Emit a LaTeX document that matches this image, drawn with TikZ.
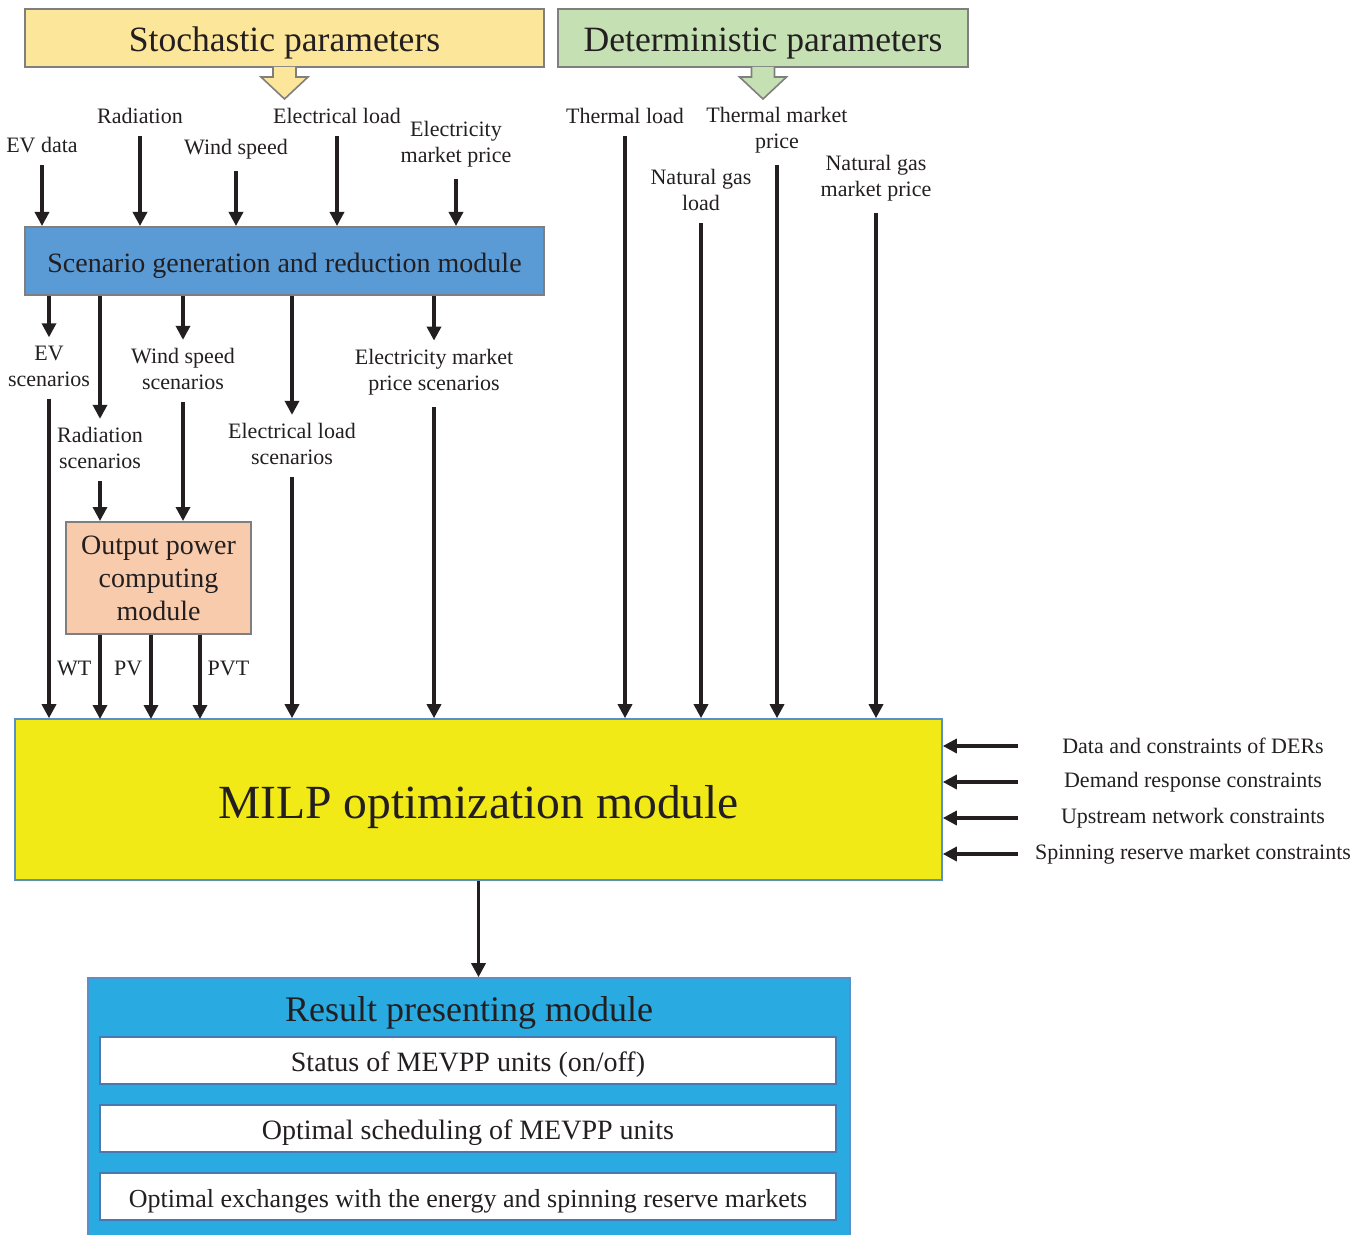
\documentclass[tikz,border=0pt]{standalone}
\usepackage{fontspec}
\setmainfont{Liberation Serif}
\usetikzlibrary{arrows.meta}

\definecolor{ink}{HTML}{231F20}
\definecolor{boxgray}{HTML}{7F7F7F}
\definecolor{stochfill}{HTML}{FCE699}
\definecolor{detfill}{HTML}{C5E0B3}
\definecolor{scenfill}{HTML}{5B9BD5}
\definecolor{opcfill}{HTML}{F8CBAD}
\definecolor{milpfill}{HTML}{F2EA17}
\definecolor{milpline}{HTML}{5B8FC9}
\definecolor{resfill}{HTML}{29ABE2}
\definecolor{resline}{HTML}{4A78B0}

\begin{document}
\begin{tikzpicture}[x=0.5pt, y=-0.5pt,
    box/.style={draw=boxgray, line width=1pt, inner sep=0pt, align=center, text=ink},
    lbl/.style={font=\fontsize{11}{13}\selectfont, align=center, inner sep=0pt, text=ink},
    arr/.style={draw=ink, line width=1.65pt, -{Triangle[width=7pt,length=7pt]}},
    bigarrow/.style={draw=boxgray, line width=0.8pt},
    resitem/.style={draw=resline, line width=0.8pt, fill=white, inner sep=0pt, text=ink,
        minimum width=368pt, minimum height=23.5pt, text height=11pt, text depth=0pt,
        font=\fontsize{14}{16}\selectfont}]
    \useasboundingbox (0,0) rectangle (1365,1235);

    % Parameter boxes
    \node[box, fill=stochfill, minimum width=259.5pt, minimum height=29pt,
        text height=13.2pt, text depth=0pt,
        font=\fontsize{17.8}{20}\selectfont] (stoch) at (284.5,38) {Stochastic parameters};
    \node[box, fill=detfill, minimum width=205pt, minimum height=29pt,
        text height=13.2pt, text depth=0pt,
        font=\fontsize{17.8}{20}\selectfont] (det) at (763,38) {Deterministic parameters};

    % Block arrows under them
    \draw[bigarrow, fill=stochfill] ([xshift=-5.75pt,yshift=0.6pt]stoch.south) -- ++(0,10.2) -- ++(-12,0)
        -- ++(23.5,22) -- ++(23.5,-22) -- ++(-12,0) -- ++(0,-10.2);
    \draw[bigarrow, fill=detfill] ([xshift=-5.75pt,yshift=0.6pt]det.south) -- ++(0,10.2) -- ++(-12,0)
        -- ++(23.5,22) -- ++(23.5,-22) -- ++(-12,0) -- ++(0,-10.2);

    % Scenario module
    \node[box, fill=scenfill, minimum width=259.5pt, minimum height=34pt,
        text height=11.6pt, text depth=0pt,
        font=\fontsize{14}{16}\selectfont] (scen) at (284.5,261) {Scenario generation and reduction module};

    % Labels for stochastic inputs
    \node[lbl] (evd) at (42,145) {EV data};
    \node[lbl] (rad) at (140,116) {Radiation};
    \node[lbl] (wind) at (236,149) {Wind speed};
    \node[lbl] (eload) at (337,116) {Electrical load};
    \node[lbl] (eprice) at (456,144) {Electricity\\market price};

    \draw[arr, shorten <=6pt] (evd.south) -- (evd.south |- scen.north);
    \draw[arr, shorten <=6pt] (rad.south) -- (rad.south |- scen.north);
    \draw[arr, shorten <=6pt] (wind.south) -- (wind.south |- scen.north);
    \draw[arr, shorten <=6pt] (eload.south) -- (eload.south |- scen.north);
    \draw[arr, shorten <=6pt] (eprice.south) -- (eprice.south |- scen.north);

    % Labels for scenarios
    \node[lbl] (evs) at (49,366) {EV\\scenarios};
    \node[lbl] (rads) at (100,448) {Radiation\\scenarios};
    \node[lbl] (winds) at (183,369) {Wind speed\\scenarios};
    \node[lbl] (eloads) at (292,444) {Electrical load\\scenarios};
    \node[lbl] (eprices) at (434,372) {Electricity market\\price scenarios};

    \draw[arr, shorten >=4pt] (evs.north |- scen.south) -- (evs.north);
    \draw[arr, shorten >=4pt] (rads.north |- scen.south) -- (rads.north);
    \draw[arr, shorten >=4pt] (winds.north |- scen.south) -- (winds.north);
    \draw[arr, shorten >=4pt] (eloads.north |- scen.south) -- (eloads.north);
    \draw[arr, shorten >=4pt] (eprices.north |- scen.south) -- (eprices.north);

    % Output power module
    \node[box, fill=opcfill, minimum width=92.5pt, minimum height=56pt,
        font=\fontsize{14}{16.5}\selectfont] (opc) at (158.5,578) {Output power\\computing\\module};
    \draw[arr, shorten <=6pt] (rads.south) -- (rads.south |- opc.north);
    \draw[arr, shorten <=6pt] (winds.south) -- (winds.south |- opc.north);

    % MILP module
    \node[draw=milpline, line width=0.8pt, fill=milpfill, inner sep=0pt, text=ink,
        minimum width=463.5pt, minimum height=80.5pt, text height=19pt, text depth=0pt,
        font=\fontsize{23.8}{28}\selectfont] (milp) at (478.5,799.5) {MILP optimization module};

    \coordinate (inWT) at (100,719);
    \coordinate (inPV) at (151,719);
    \coordinate (inPVT) at (200,719);
    \draw[arr, shorten <=6pt] (evs.south) -- (evs.south |- milp.north);
    \draw[arr] (opc.south -| inWT) -- node[lbl, left=3.5pt, pos=0.4] {WT} (inWT);
    \draw[arr] (opc.south -| inPV) -- node[lbl, left=3.5pt, pos=0.4] {PV} (inPV);
    \draw[arr] (opc.south -| inPVT) -- node[lbl, right=3pt, pos=0.4] {PVT} (inPVT);
    \draw[arr, shorten <=6pt] (eloads.south) -- (eloads.south |- milp.north);
    \draw[arr, shorten <=6pt] (eprices.south) -- (eprices.south |- milp.north);

    % Labels for deterministic inputs
    \node[lbl] (tload) at (625,116) {Thermal load};
    \node[lbl] (gload) at (701,190) {Natural gas\\load};
    \node[lbl] (tprice) at (777,130) {Thermal market\\price};
    \node[lbl] (gprice) at (876,178) {Natural gas\\market price};

    \draw[arr, shorten <=6pt] (tload.south) -- (tload.south |- milp.north);
    \draw[arr, shorten <=6pt] (gload.south) -- (gload.south |- milp.north);
    \draw[arr, shorten <=6pt] (tprice.south) -- (tprice.south |- milp.north);
    \draw[arr, shorten <=6pt] (gprice.south) -- (gprice.south |- milp.north);

    % Constraints on the right
    \coordinate (rsrc) at (1018,745);
    \node[lbl] (ders) at (1193,746) {Data and constraints of DERs};
    \node[lbl] (demr) at (1193,782) {Demand response constraints};
    \node[lbl] (upst) at (1193,818) {Upstream network constraints};
    \node[lbl] (spin) at (1193,854) {Spinning reserve market constraints};

    \draw[arr] (ders -| rsrc) -- (ders -| milp.east);
    \draw[arr] (demr -| rsrc) -- (demr -| milp.east);
    \draw[arr] (upst -| rsrc) -- (upst -| milp.east);
    \draw[arr] (spin -| rsrc) -- (spin -| milp.east);

    % Result module
    \node[draw=milpline, line width=0.8pt, fill=resfill, inner sep=0pt,
        minimum width=381pt, minimum height=131pt] (res) at (469,1109) {};
    \node[text=ink, inner sep=0pt, font=\fontsize{18}{20}\selectfont] (restitle) at (469,1013) {Result presenting module};
    \node[resitem] (status) at (468,1060.5) {Status of MEVPP units (on/off)};
    \node[resitem] (sched) at (468,1128.5) {Optimal scheduling of MEVPP units};
    \node[resitem, font=\fontsize{13}{15}\selectfont] (exch) at (468,1196.5) {Optimal exchanges with the energy and spinning reserve markets};

    \draw[arr] (milp.south) -- (milp.south |- res.north);

\end{tikzpicture}
\end{document}
